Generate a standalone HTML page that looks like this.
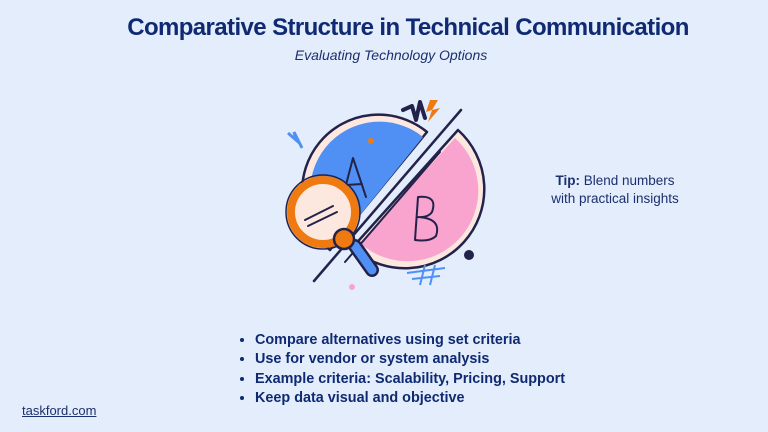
<!DOCTYPE html>
<html><head><meta charset="utf-8"><style>
body{margin:0;width:768px;height:432px;background:#e3edfc;font-family:"Liberation Sans",sans-serif;position:relative;overflow:hidden;color:#112a6e}
.t{position:absolute;left:0;width:816px;text-align:center;top:14px;font-size:24px;font-weight:bold;letter-spacing:-0.6px;color:#0f2a72}
.s{position:absolute;left:0;width:782px;text-align:center;top:47px;font-size:14px;font-style:italic;color:#1c2f6e}
.tip{position:absolute;left:525px;width:180px;text-align:center;top:172px;font-size:13.5px;line-height:18px;color:#1c2f6e}
ul{position:absolute;left:235px;top:331px;margin:0;padding:0 0 0 20px;font-size:14.4px;font-weight:bold;line-height:19.3px;color:#0f2a72}
.f{position:absolute;left:22px;top:403px;font-size:13px;text-decoration:underline;color:#1c2f6e}
</style></head><body>
<div class="t">Comparative Structure in Technical Communication</div>
<div class="s">Evaluating Technology Options</div>
<svg width="768" height="432" style="position:absolute;left:0;top:0">
<g stroke="#23224a" stroke-width="2.5" stroke-linejoin="round" stroke-linecap="round">
<path d="M427,132 A68,68 0 0 0 330,250 Z" fill="#fde8e0"/>
<path d="M423,137 A62,62 0 0 0 336,245 Z" fill="#5090f5" stroke="none"/>
<path d="M458,130 A72,72 0 0 1 352,248 Z" fill="#fde8e0"/>
<path d="M455,138 A66,66 0 0 1 360,243 Z" fill="#f9a3cf" stroke="none"/>
<line x1="461" y1="110" x2="314" y2="281"/>
<line x1="440" y1="152" x2="345" y2="262" stroke-width="2"/>
<path d="M342,200 L353,158 L366,197 M346,185 L362,184" fill="none" stroke-width="2"/>
<path d="M418,197 L415,240 M418,197 Q438,195 432,212 Q428,218 417,217 Q442,218 436,236 Q430,242 415,240" fill="none" stroke-width="2"/>
<path d="M355,246 L372,270" stroke="#23224a" stroke-width="14"/>
<path d="M355,246 L372,270" stroke="#5090f5" stroke-width="9"/>
<circle cx="323" cy="212" r="32" fill="#fde8e0" stroke="#f07a12" stroke-width="8"/>
<circle cx="323" cy="212" r="37" fill="none" stroke-width="1.5"/>
<path d="M305,220 L333,206 M308,226 L337,212" stroke-width="2"/>
<circle cx="344" cy="239" r="10" fill="#f07a12"/>
<path d="M403,110 L412,106 L416,120 L420,102 L425,118" fill="none" stroke-width="4"/>
</g>
<path d="M430,100 L438,100 L432,110 L440,108 L428,122 L432,110 L426,112 Z" fill="#f07a12"/>
<path d="M288,133 L296,140 L294,132 L302,148" fill="none" stroke="#5090f5" stroke-width="3"/>
<circle cx="371" cy="141" r="3" fill="#f07a12"/>
<circle cx="469" cy="255" r="5" fill="#23224a"/>
<circle cx="352" cy="287" r="3" fill="#f9a3cf"/>
<path d="M407,273 L445,268 M412,279 L440,276 M425,265 L420,285 M435,265 L430,285" stroke="#5090f5" stroke-width="2"/>
</svg>
<div class="tip"><b>Tip:</b> Blend numbers<br>with practical insights</div>
<ul><li>Compare alternatives using set criteria</li><li>Use for vendor or system analysis</li><li>Example criteria: Scalability, Pricing, Support</li><li>Keep data visual and objective</li></ul>
<div class="f">taskford.com</div>
</body></html>
